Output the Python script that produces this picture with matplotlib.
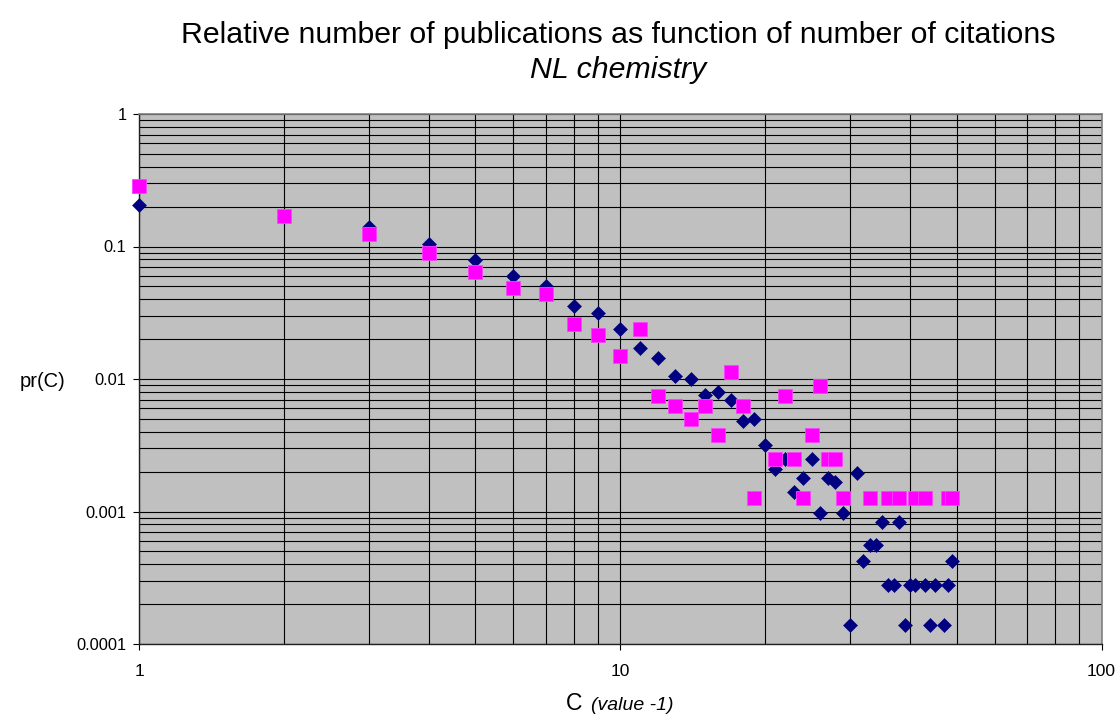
import matplotlib
matplotlib.use("Agg")
import matplotlib.pyplot as plt
from matplotlib.ticker import LogLocator, FixedLocator, FixedFormatter, NullFormatter

plt.rcParams['font.family'] = ['Liberation Sans', 'DejaVu Sans']

# Series 1 (navy diamonds)
c_series1 = [1, 2, 3, 4, 5, 6, 7, 8, 9, 10, 11, 12, 13, 14, 15, 16, 17, 18, 19, 20,
             21, 22, 23, 24, 25, 26, 27, 28, 29, 30, 31, 32, 33, 34, 35, 36, 37, 38, 39, 40,
             41, 43, 44, 45, 47, 48, 49]
pr_series1 = [0.206, 0.168, 0.141, 0.105, 0.0785, 0.0595, 0.0506, 0.0358, 0.0313, 0.0240,
              0.0170, 0.0145, 0.0106, 0.0100, 0.0076, 0.0080, 0.0069, 0.0048, 0.0050, 0.0032,
              0.0021, 0.0025, 0.0014, 0.0018, 0.0025, 0.00097, 0.0018, 0.00166, 0.00097, 0.000139,
              0.00194, 0.00042, 0.00056, 0.00056, 0.00083, 0.000277, 0.000277, 0.00083, 0.000139, 0.000277,
              0.000277, 0.000277, 0.000139, 0.000277, 0.000139, 0.000277, 0.00042]

# Series 2 (magenta squares)
c_series2 = [1, 2, 3, 4, 5, 6, 7, 8, 9, 10, 11, 12, 13, 14, 15, 16, 17, 18, 19,
             21, 22, 23, 24, 25, 26, 27, 28, 29, 33, 36, 38, 41, 43, 48, 49]
pr_series2 = [0.288, 0.171, 0.125, 0.090, 0.0638, 0.0486, 0.0435, 0.0262, 0.0213, 0.0150,
              0.0239, 0.0075, 0.0063, 0.0050, 0.0063, 0.0038, 0.0113, 0.0063, 0.00126,
              0.0025, 0.0075, 0.0025, 0.00126, 0.0038, 0.0088, 0.0025, 0.0025, 0.00126,
              0.00126, 0.00126, 0.00126, 0.00126, 0.00126, 0.00126, 0.00126]

x_ticks = [1, 10, 100]
x_tick_labels = ['1', '10', '100']
y_ticks = [0.0001, 0.001, 0.01, 0.1, 1]
y_tick_labels = ['0.0001', '0.001', '0.01', '0.1', '1']

W, H = 1118, 714
fig = plt.figure(figsize=(W / 100, H / 100), dpi=100)
fig.patch.set_facecolor('white')
ax = fig.add_axes([139 / W, 1 - 644 / H, (1101.5 - 139) / W, (644 - 114) / H])
ax.set_facecolor('#C0C0C0')
ax.set_xscale('log')
ax.set_yscale('log')
ax.set_xlim(1, 100)
ax.set_ylim(0.0001, 1)

ax.xaxis.set_major_locator(FixedLocator(x_ticks))
ax.xaxis.set_major_formatter(FixedFormatter(x_tick_labels))
ax.yaxis.set_major_locator(FixedLocator(y_ticks))
ax.yaxis.set_major_formatter(FixedFormatter(y_tick_labels))
ax.xaxis.set_minor_locator(LogLocator(base=10, subs=range(2, 10), numticks=20))
ax.yaxis.set_minor_locator(LogLocator(base=10, subs=range(2, 10), numticks=20))
ax.xaxis.set_minor_formatter(NullFormatter())
ax.yaxis.set_minor_formatter(NullFormatter())

ax.grid(True, which='both', color='black', linewidth=0.8)
ax.set_axisbelow(True)

ax.tick_params(which='minor', length=0)
ax.tick_params(axis='x', which='major', direction='out', length=4, width=0.8,
               labelsize=12.5, pad=10.5, colors='black')
ax.tick_params(axis='y', which='major', direction='out', length=4, width=0.8,
               labelsize=11.8, pad=5, colors='black')

for side in ['top', 'right']:
    ax.spines[side].set_color('#808080')
    ax.spines[side].set_linewidth(1.2)
for side in ['left', 'bottom']:
    ax.spines[side].set_color('#202020')
    ax.spines[side].set_linewidth(1.0)

ax.plot(c_series1, pr_series1, linestyle='none', marker='D', markersize=7.5,
        markerfacecolor='#000080', markeredgecolor='#000080', markeredgewidth=0.4,
        clip_on=False, zorder=3)
ax.plot(c_series2, pr_series2, linestyle='none', marker='s', markersize=10.3,
        markerfacecolor='#FF00FF', markeredgecolor='#FF40FF', markeredgewidth=0.6,
        clip_on=False, zorder=4)

cx = 618 / W
fig.text(cx, 1 - 43 / H, 'Relative number of publications as function of number of citations',
         ha='center', va='baseline', fontsize=21.8)
fig.text(cx, 1 - 77.5 / H, 'NL chemistry', ha='center', va='baseline', fontsize=21.8,
         style='italic')

fig.text(65.5 / W, 1 - 387.3 / H, 'pr(C)', ha='right', va='baseline', fontsize=14.5)

fig.text(566 / W, 1 - 710 / H, 'C', ha='left', va='baseline', fontsize=16.5)
fig.text(590.7 / W, 1 - 710 / H, '(value -1)', ha='left', va='baseline', fontsize=14,
         style='italic')

fig.savefig('out.png', dpi=100, facecolor='white')
